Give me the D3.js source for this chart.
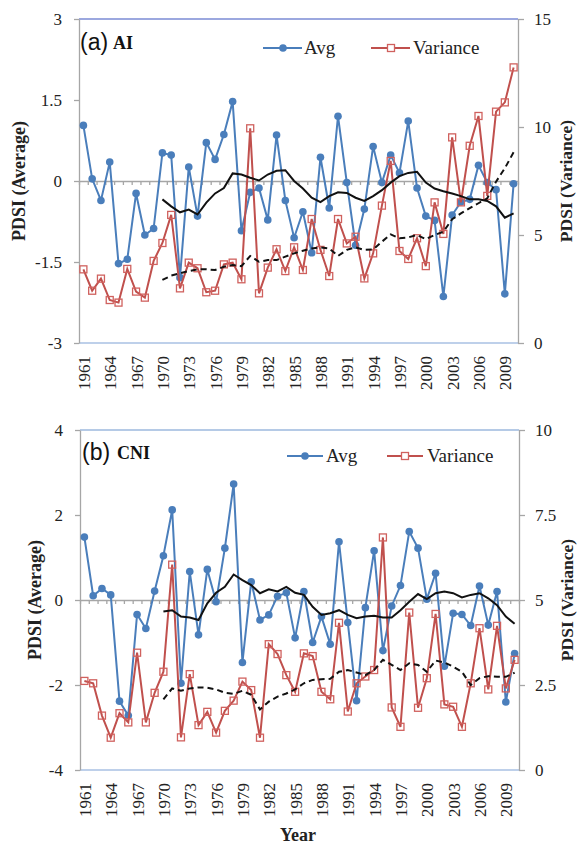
<!DOCTYPE html>
<html>
<head>
<meta charset="utf-8">
<script src="https://cdn.jsdelivr.net/npm/d3@7/dist/d3.min.js"></script>
<style>
  body { margin: 0; background: white; }
  svg { display: block; }
</style>
</head>
<body>
<div id="canvas"></div>
<script>
var w = 579;
var h = 844;

// categories
var years = [1961,1962,1963,1964,1965,1966,1967,1968,1969,1970,
             1971,1972,1973,1974,1975,1976,1977,1978,1979,1980,
             1981,1982,1983,1984,1985,1986,1987,1988,1989,1990,
             1991,1992,1993,1994,1995,1996,1997,1998,1999,2000,
             2001,2002,2003,2004,2005,2006,2007,2008,2009,2010];
var smoothYears = [1970,1971,1972,1973,1974,1975,1976,1977,1978,1979,1980,
                   1981,1982,1983,1984,1985,1986,1987,1988,1989,1990,
                   1991,1992,1993,1994,1995,1996,1997,1998,1999,2000,
                   2001,2002,2003,2004,2005,2006,2007,2008,2009,2010];
var yearTicks = [1961,1964,1967,1970,1973,1976,1979,1982,1985,1988,1991,1994,1997,2000,2003,2006,2009];

// (a) AI
var aiAvg = [1.03,0.04,-0.36,0.35,-1.53,-1.45,-0.23,-1.00,-0.88,0.52,
             0.48,-1.79,0.26,-0.65,0.71,0.40,0.86,1.47,-0.92,-0.21,
             -0.13,-0.72,0.85,-0.36,-1.05,-0.57,-1.33,0.44,-0.50,1.20,
             -0.03,-1.19,-0.52,0.64,-0.03,0.48,0.15,1.11,-0.13,-0.65,
             -0.73,-2.14,-0.63,-0.39,-0.34,0.29,-0.03,-0.16,-2.09,-0.05];
var aiVar = [3.41,2.42,2.98,1.99,1.87,3.43,2.38,2.10,3.80,4.63,
             5.93,2.53,3.72,3.46,2.35,2.42,3.64,3.72,2.95,9.94,
             2.30,3.49,4.34,3.33,4.43,3.38,5.74,4.31,3.10,5.74,
             4.61,4.92,2.99,4.15,6.36,8.43,4.26,3.89,4.85,3.56,
             6.51,5.05,9.52,6.51,9.13,10.51,6.81,10.71,11.14,12.76];
var aiAvgSmooth = [-0.34,-0.47,-0.58,-0.53,-0.62,-0.40,-0.23,-0.13,0.14,0.12,0.06,
                   0.01,0.12,0.19,0.20,0.00,-0.14,-0.31,-0.39,-0.28,-0.21,
                   -0.22,-0.31,-0.37,-0.28,-0.17,-0.03,0.09,0.15,0.17,-0.03,
                   -0.14,-0.19,-0.23,-0.28,-0.34,-0.34,-0.37,-0.47,-0.68,-0.60];
var aiVarSmooth = [2.92,3.12,3.23,3.33,3.41,3.41,3.38,3.53,3.61,3.56,4.03,
                   3.76,3.84,3.84,4.00,4.15,4.27,4.38,4.43,4.38,4.03,
                   4.31,4.43,4.31,4.33,4.69,5.03,4.85,4.89,5.00,4.81,
                   5.00,5.15,5.73,6.00,6.24,6.47,6.70,7.47,8.09,8.83];
var aiLeftTicks = [-3,-1.5,0,1.5,3];
var aiRightTicks = [0,5,10,15];

// (b) CNI
var cniAvg = [1.48,0.10,0.27,0.12,-2.38,-2.72,-0.34,-0.67,0.21,1.04,
              2.12,-1.96,0.67,-0.82,0.72,-0.04,1.22,2.73,-1.47,0.43,
              -0.47,-0.35,0.09,0.17,-0.89,0.20,-1.00,-0.39,-1.04,1.37,
              -0.53,-2.37,-0.18,1.16,-1.19,-0.14,0.34,1.61,1.22,0.02,
              0.63,-1.56,-0.31,-0.34,-0.60,0.33,-0.59,0.20,-2.40,-1.26];
var cniVar = [2.62,2.55,1.60,0.95,1.67,1.40,3.45,1.40,2.27,2.89,
              6.04,0.96,2.82,1.32,1.71,1.10,1.74,2.04,2.60,2.35,
              0.95,3.70,3.41,2.79,2.30,3.43,3.35,2.30,2.08,4.33,
              1.72,2.55,2.75,2.94,6.84,1.84,1.27,4.63,1.83,2.70,
              4.59,1.93,1.86,1.27,2.55,4.17,2.37,4.24,2.40,3.24];
var cniAvgSmooth = [-0.27,-0.24,-0.39,-0.41,-0.47,-0.08,0.17,0.31,0.60,0.47,0.35,
                    0.16,0.25,0.20,0.31,0.17,0.12,-0.16,-0.35,-0.31,-0.24,
                    -0.35,-0.43,-0.39,-0.37,-0.41,-0.41,-0.24,-0.04,0.14,0.02,
                    0.16,0.20,0.16,0.06,0.12,0.16,0.04,-0.12,-0.39,-0.56];
var cniVarSmooth = [2.08,2.40,2.33,2.40,2.43,2.42,2.37,2.27,2.24,2.33,2.21,
                    1.78,2.01,2.16,2.25,2.37,2.55,2.65,2.67,2.68,2.89,
                    2.94,2.87,2.79,2.94,3.24,3.09,2.94,3.14,3.09,2.89,
                    3.22,3.16,3.04,2.89,2.50,2.70,2.76,2.74,2.74,2.86];
var cniLeftTicks = [-4,-2,0,2,4];
var cniRightTicks = [0,2.5,5,7.5,10];

var blue = "#4a7ebb";
var red = "#c0504d";
var grey = "#a6a6a6";
var serif = "'Liberation Serif', 'Times New Roman', serif";
var sans = "'Liberation Sans', Arial, sans-serif";

var canvas = d3.select("#canvas")
               .append("svg")
               .attr("width", w)
               .attr("height", h)
               .style("background-color", "white");

function drawPanel(p) {
    var x = d3.scalePoint().domain(years).range([p.left, p.right]).padding(0.5);
    var xEdge = d3.scaleLinear().domain([0, years.length]).range([p.left, p.right]);
    var yL = d3.scaleLinear().domain(p.leftDomain).range([p.bottom, p.top]);
    var yR = d3.scaleLinear().domain(p.rightDomain).range([p.bottom, p.top]);

    var g = canvas.append("g");

    // top and bottom frame lines
    g.append("line").attr("x1", p.left).attr("x2", p.right)
        .attr("y1", p.top).attr("y2", p.top)
        .attr("stroke", p.topColor).attr("stroke-width", 1.3);
    g.append("line").attr("x1", p.left).attr("x2", p.right)
        .attr("y1", p.bottom).attr("y2", p.bottom)
        .attr("stroke", "#a9c1e3").attr("stroke-width", 1.3);

    // left axis
    var left = g.append("g")
        .attr("transform", `translate(${p.left}, 0)`)
        .call(d3.axisLeft(yL).tickValues(p.leftTicks).tickSize(5).tickSizeOuter(0)
                .tickPadding(12).tickFormat(d => String(d)));
    // right axis
    var right = g.append("g")
        .attr("transform", `translate(${p.right}, 0)`)
        .call(d3.axisRight(yR).tickValues(p.rightTicks).tickSize(6).tickSizeOuter(0)
                .tickPadding(10).tickFormat(d => String(d)));
    [left, right].forEach(function(a) {
        a.selectAll("path, line").attr("stroke", grey).attr("stroke-width", 1.3);
        a.selectAll("text").attr("font-family", serif).attr("font-size", 17).attr("fill", "#222");
    });

    // category axis on the zero line
    var zero = g.append("g")
        .attr("transform", `translate(0, ${yL(0)})`)
        .call(d3.axisBottom(xEdge).ticks(years.length).tickSize(4).tickSizeOuter(0).tickFormat(""));
    zero.selectAll("path, line").attr("stroke", grey).attr("stroke-width", 1.3);

    // year labels below the plot
    var yearAxis = g.append("g")
        .attr("transform", `translate(0, ${p.bottom})`)
        .call(d3.axisBottom(x).tickValues(yearTicks).tickSize(0).tickPadding(0));
    yearAxis.select(".domain").remove();
    yearAxis.selectAll("text")
        .attr("font-family", serif).attr("font-size", 17).attr("fill", "#222")
        .attr("text-anchor", "end")
        .attr("dy", "0.35em")
        .attr("transform", "translate(0, 13) rotate(-90)")
        .attr("x", 0).attr("y", 0);

    var lineL = d3.line().x(d => x(d.year)).y(d => yL(d.v));
    var lineR = d3.line().x(d => x(d.year)).y(d => yR(d.v));
    var avg = years.map((yr, i) => ({year: yr, v: p.avg[i]}));
    var vari = years.map((yr, i) => ({year: yr, v: p.vari[i]}));
    var avgS = smoothYears.map((yr, i) => ({year: yr, v: p.avgSmooth[i]}));
    var varS = smoothYears.map((yr, i) => ({year: yr, v: p.varSmooth[i]}));

    g.append("path").datum(avg).attr("d", lineL)
        .attr("fill", "none").attr("stroke", blue).attr("stroke-width", 2);
    g.selectAll(".avgdot").data(avg).join("circle")
        .attr("class", "avgdot")
        .attr("cx", d => x(d.year)).attr("cy", d => yL(d.v))
        .attr("r", 3.8).attr("fill", blue);

    g.append("path").datum(vari).attr("d", lineR)
        .attr("fill", "none").attr("stroke", red).attr("stroke-width", 2);
    g.selectAll(".varsq").data(vari).join("rect")
        .attr("class", "varsq")
        .attr("x", d => x(d.year) - 3.5).attr("y", d => yR(d.v) - 3.5)
        .attr("width", 7).attr("height", 7)
        .attr("fill", "none").attr("stroke", "#d0615e").attr("stroke-width", 1.3);

    g.append("path").datum(avgS).attr("d", lineL)
        .attr("fill", "none").attr("stroke", "#111").attr("stroke-width", 2);
    g.append("path").datum(varS).attr("d", lineR)
        .attr("fill", "none").attr("stroke", "#111").attr("stroke-width", 2)
        .attr("stroke-dasharray", "6,4");

    // legend
    var lg = p.legend;
    g.append("line").attr("x1", lg.avgLine[0]).attr("x2", lg.avgLine[1])
        .attr("y1", lg.y).attr("y2", lg.y).attr("stroke", blue).attr("stroke-width", 2);
    g.append("circle").attr("cx", lg.avgMark).attr("cy", lg.y).attr("r", 3.8).attr("fill", blue);
    g.append("text").attr("x", lg.avgText).attr("y", lg.y).attr("dy", "0.33em")
        .attr("font-family", serif).attr("font-size", 19).attr("fill", "#222").text("Avg");
    g.append("line").attr("x1", lg.varLine[0]).attr("x2", lg.varLine[1])
        .attr("y1", lg.y).attr("y2", lg.y).attr("stroke", red).attr("stroke-width", 2);
    g.append("rect").attr("x", lg.varMark - 3.5).attr("y", lg.y - 3.5)
        .attr("width", 7).attr("height", 7).attr("fill", "white")
        .attr("stroke", "#d0615e").attr("stroke-width", 1.3);
    g.append("text").attr("x", lg.varText).attr("y", lg.y).attr("dy", "0.33em")
        .attr("font-family", serif).attr("font-size", 19).attr("fill", "#222").text("Variance");

    // panel label
    g.append("text").attr("x", p.tag.x).attr("y", p.tag.y)
        .attr("font-family", sans).attr("font-size", 23).attr("fill", "#111").text(p.tag.letter);
    g.append("text").attr("x", p.tag.nameX).attr("y", p.tag.y - 1)
        .attr("font-family", serif).attr("font-weight", "bold").attr("font-size", 18)
        .attr("fill", "#111").text(p.tag.name);

    // axis titles
    var midY = (p.top + p.bottom) / 2;
    g.append("text")
        .attr("transform", `translate(${p.leftTitleX}, ${midY}) rotate(-90)`)
        .attr("text-anchor", "middle").attr("dy", "0.35em")
        .attr("font-family", serif).attr("font-weight", "bold").attr("font-size", 18)
        .attr("fill", "#222").text("PDSI (Average)");
    g.append("text")
        .attr("transform", `translate(${p.rightTitleX}, ${midY}) rotate(-90)`)
        .attr("text-anchor", "middle").attr("dy", "0.35em")
        .attr("font-family", serif).attr("font-weight", "bold").attr("font-size", 17.5)
        .attr("fill", "#222").text("PDSI (Variance)");
}

drawPanel({
    left: 79, right: 518, top: 19, bottom: 343,
    leftDomain: [-3, 3], rightDomain: [0, 15],
    leftTicks: aiLeftTicks, rightTicks: aiRightTicks,
    avg: aiAvg, vari: aiVar, avgSmooth: aiAvgSmooth, varSmooth: aiVarSmooth,
    topColor: "#7b8bd4",
    legend: {y: 48, avgLine: [263, 302], avgMark: 283, avgText: 304,
             varLine: [371, 410], varMark: 391, varText: 413},
    tag: {letter: "(a)", name: "AI", x: 80, nameX: 113, y: 50},
    leftTitleX: 19, rightTitleX: 566
});

drawPanel({
    left: 80, right: 519, top: 430, bottom: 770,
    leftDomain: [-4, 4], rightDomain: [0, 10],
    leftTicks: cniLeftTicks, rightTicks: cniRightTicks,
    avg: cniAvg, vari: cniVar, avgSmooth: cniAvgSmooth, varSmooth: cniVarSmooth,
    topColor: "#9cb8de",
    legend: {y: 456, avgLine: [287, 323], avgMark: 305, avgText: 326,
             varLine: [387, 423], varMark: 405, varText: 427},
    tag: {letter: "(b)", name: "CNI", x: 82, nameX: 117, y: 460},
    leftTitleX: 35, rightTitleX: 567
});

canvas.append("text")
    .attr("x", 298).attr("y", 841)
    .attr("text-anchor", "middle")
    .attr("font-family", serif).attr("font-weight", "bold").attr("font-size", 18)
    .attr("fill", "#222").text("Year");
</script>
</body>
</html>
